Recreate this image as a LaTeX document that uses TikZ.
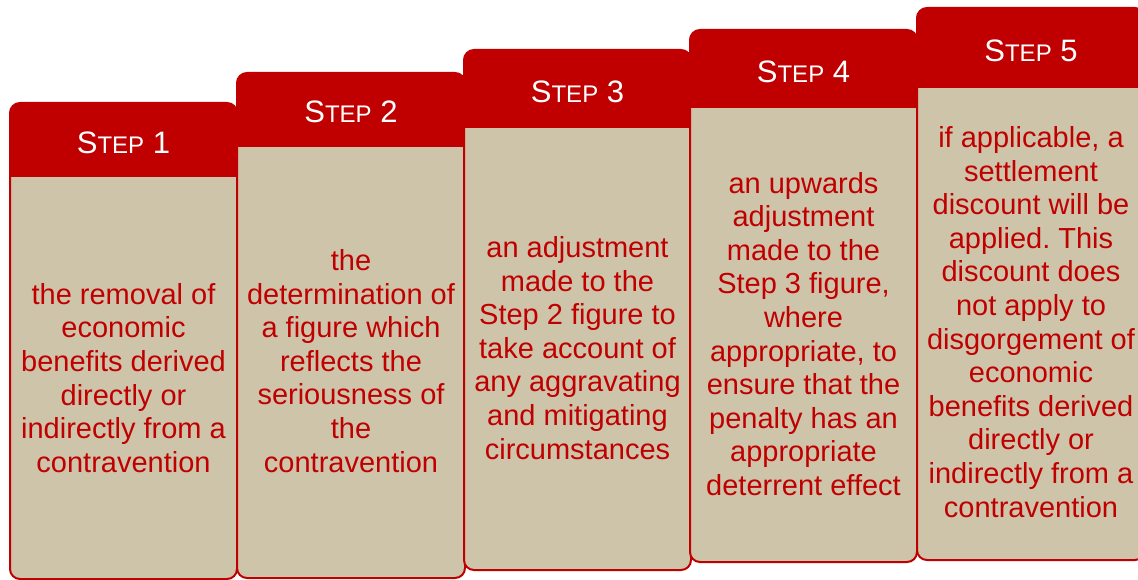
\documentclass[tikz,border=0pt]{standalone}
\usepackage{fontspec}
\setmainfont{Liberation Sans}
\frenchspacing
\definecolor{stepred}{RGB}{192,0,0}
\definecolor{sand}{RGB}{205,196,170}
\newcommand{\steptitle}[1]{S{\fontsize{24}{28}\selectfont TEP} #1}

\begin{document}
\begin{tikzpicture}[x=1pt,y=-1pt,
	body/.style={fill=sand, rounded corners=10},
	head/.style={fill=stepred},
	frame/.style={draw=stepred, line width=2, rounded corners=10},
	title/.style={text=white, inner sep=0, font=\fontsize{31}{36}\selectfont},
	words/.style={text=stepred, inner sep=0, align=center, font=\fontsize{29}{33.6}\selectfont}]
	\clip (0,0) rectangle (1138,580);

	\fill[body] (10,103) rectangle (237,579); %step1
	\fill[head, rounded corners=10] (10,103) rectangle (237,177);
	\fill[head] (10,160) rectangle (237,177);
	\draw[frame] (10,103) rectangle (237,579);

	\fill[body] (237,73) rectangle (465,578); %step2
	\fill[head, rounded corners=10] (237,73) rectangle (465,147);
	\fill[head] (237,130) rectangle (465,147);
	\draw[frame] (237,73) rectangle (465,578);

	\fill[body] (464,50) rectangle (691,570); %step3
	\fill[head, rounded corners=10] (464,50) rectangle (691,128);
	\fill[head] (464,110) rectangle (691,128);
	\draw[frame] (464,50) rectangle (691,570);

	\fill[body] (690,30) rectangle (917,562); %step4
	\fill[head, rounded corners=10] (690,30) rectangle (917,108);
	\fill[head] (690,90) rectangle (917,108);
	\draw[frame] (690,30) rectangle (917,562);

	\fill[body] (917,8) rectangle (1145,560); %step5
	\fill[head, rounded corners=10] (917,8) rectangle (1145,88);
	\fill[head] (917,70) rectangle (1145,88);
	\draw[frame] (917,8) rectangle (1145,560);

	\node[title] at (123.5,142.5) (title1) {\steptitle{1}};
	\node[title] at (351,112) (title2) {\steptitle{2}};
	\node[title] at (577.5,91.5) (title3) {\steptitle{3}};
	\node[title] at (803.5,71.5) (title4) {\steptitle{4}};
	\node[title] at (1031,50.5) (title5) {\steptitle{5}};

	\node[words] at (123.5,378) (text1) {the removal of\\economic\\benefits derived\\directly or\\indirectly from a\\contravention};
	\node[words] at (351,361) (text2) {the\\determination of\\a figure which\\reflects the\\seriousness of\\the\\contravention};
	\node[words] at (577.5,348) (text3) {an adjustment\\made to the\\Step 2 figure to\\take account of\\any aggravating\\and mitigating\\circumstances};
	\node[words] at (803.5,334) (text4) {an upwards\\adjustment\\made to the\\Step 3 figure,\\where\\appropriate, to\\ensure that the\\penalty has an\\appropriate\\deterrent effect};
	\node[words] at (1031,322) (text5) {if applicable, a\\settlement\\discount will be\\applied. This\\discount does\\not apply to\\disgorgement of\\economic\\benefits derived\\directly or\\indirectly from a\\contravention};
\end{tikzpicture}
\end{document}
